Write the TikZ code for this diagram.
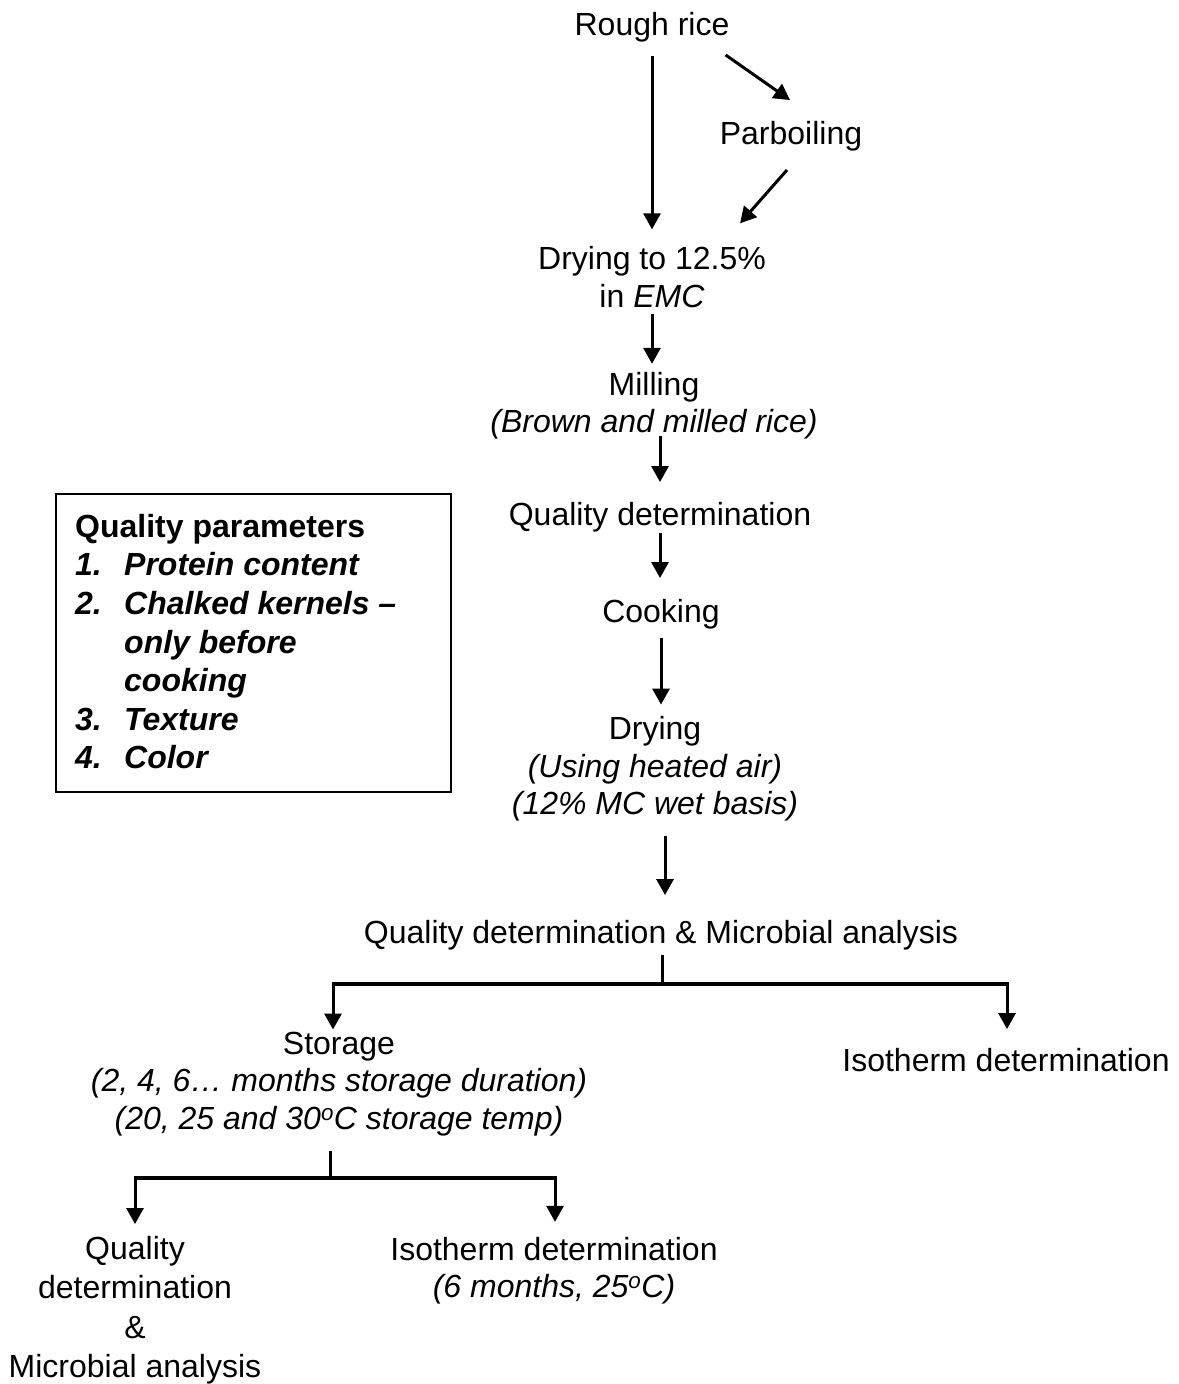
\documentclass[tikz,border=0pt]{standalone}
\usepackage{fontspec}
\setmainfont{Liberation Sans}
\usetikzlibrary{arrows.meta}
\begin{document}
\begin{tikzpicture}[x=1pt,y=-1pt,
  lbl/.style={inner sep=0pt, align=center, font=\fontsize{32}{37.5}\selectfont,
              execute at begin node=\strut, execute at end node=\strut},
  arr/.style={line width=3pt, -{Triangle[length=16pt,width=17pt]}},
  stem/.style={line width=3pt},
  barline/.style={line width=4.5pt},
  boxframe/.style={draw, line width=2.2pt, inner sep=0pt},
]
\useasboundingbox (0,0) rectangle (1178,1384);

% main column
\node[lbl] (rough) at (652,28) {Rough rice};
\node[lbl] (parb) at (791,137) {Parboiling};
\node[lbl] (dry1) at (652,282.5) {Drying to 12.5\%\\in \textit{EMC}};
\node[lbl] (mill) at (654,408) {Milling\\\textit{(Brown and milled rice)}};
\node[lbl] (qd1) at (660,518) {Quality determination};
\node[lbl] (cook) at (661,615) {Cooking};
\node[lbl] (dry2) at (655,771.5) {Drying\\\textit{(Using heated air)}\\\textit{(12\% MC wet basis)}};
\node[lbl] (qdma) at (661,936) {Quality determination \& Microbial analysis};
\node[lbl] (stor) at (339,1086) {Storage\\\textit{(2, 4, 6… months storage duration)}\\\textit{(20, 25 and 30\textsuperscript{o}C storage temp)}};
\node[lbl] (iso1) at (1006,1064) {Isotherm determination};
\node[lbl, font=\fontsize{32}{39.5}\selectfont] (qdma2) at (135,1313) {Quality\\determination\\\&\\Microbial analysis};
\node[lbl] (iso2) at (554,1273) {Isotherm determination\\\textit{(6 months, 25\textsuperscript{o}C)}};

% quality parameters box
\node[boxframe, minimum width=395pt, minimum height=298pt, anchor=north west] (qbox) at (55,493) {};
\node[anchor=north west, inner sep=0pt, align=left,
      font=\fontsize{32}{38.6}\selectfont\bfseries, execute at begin node=\strut]
  (qtext) at ([xshift=20pt,yshift=-21pt]qbox.north west)
  {Quality parameters\\
   \textit{\makebox[49pt][l]{1.}Protein content}\\
   \textit{\makebox[49pt][l]{2.}Chalked kernels –}\\
   \textit{\hspace*{49pt}only before}\\
   \textit{\hspace*{49pt}cooking}\\
   \textit{\makebox[49pt][l]{3.}Texture}\\
   \textit{\makebox[49pt][l]{4.}Color}};

% top arrows
\draw[arr, shorten <=9pt, shorten >=17pt] (rough.south) -- (dry1.north);
\draw[arr] ([xshift=-4pt,yshift=-8pt]rough.south east) -- ([xshift=-1pt,yshift=18pt]parb.north);
\draw[arr] ([xshift=-4pt,yshift=-14pt]parb.south) -- ([xshift=-26pt,yshift=23pt]dry1.north east);
\draw[arr, shorten <=-5pt, shorten >=8pt] (dry1.south) -- (dry1.south |- mill.north);
\draw[arr, shorten <=-8pt, shorten >=17pt] (qd1.north |- mill.south) -- (qd1.north);
\draw[arr, shorten <=-4pt, shorten >=18pt] (qd1.south) -- (qd1.south |- cook.north);
\draw[arr, shorten <=4pt, shorten >=12pt] (cook.south) -- (cook.south |- dry2.north);
\draw[arr, shorten <=10pt, shorten >=22pt] ([xshift=10pt]dry2.south) -- ([xshift=4pt]qdma.north);

% first branch
\coordinate (b1) at (662,984);
\coordinate (bL) at (333,984);
\coordinate (bR) at (1007,984);
\draw[stem] (qdma.south -| b1) -- (b1);
\draw[barline, shorten <=-1.5pt, shorten >=-1.5pt] (bL) -- (bR);
\draw[arr, shorten >=2pt] (bL) -- (bL |- stor.north);
\draw[arr, shorten >=16pt] (bR) -- (bR |- iso1.north);

% second branch
\coordinate (b2) at (330,1178);
\coordinate (bL2) at (135,1178);
\coordinate (bR2) at (555,1178);
\draw[stem, shorten <=10pt] (b2 |- stor.south) -- (b2);
\draw[barline, shorten <=-1.5pt, shorten >=-1.5pt] (bL2) -- (bR2);
\draw[arr, shorten >=12pt] (bL2) -- (bL2 |- qdma2.north);
\draw[arr, shorten >=15pt] (bR2) -- (bR2 |- iso2.north);
\end{tikzpicture}
\end{document}
